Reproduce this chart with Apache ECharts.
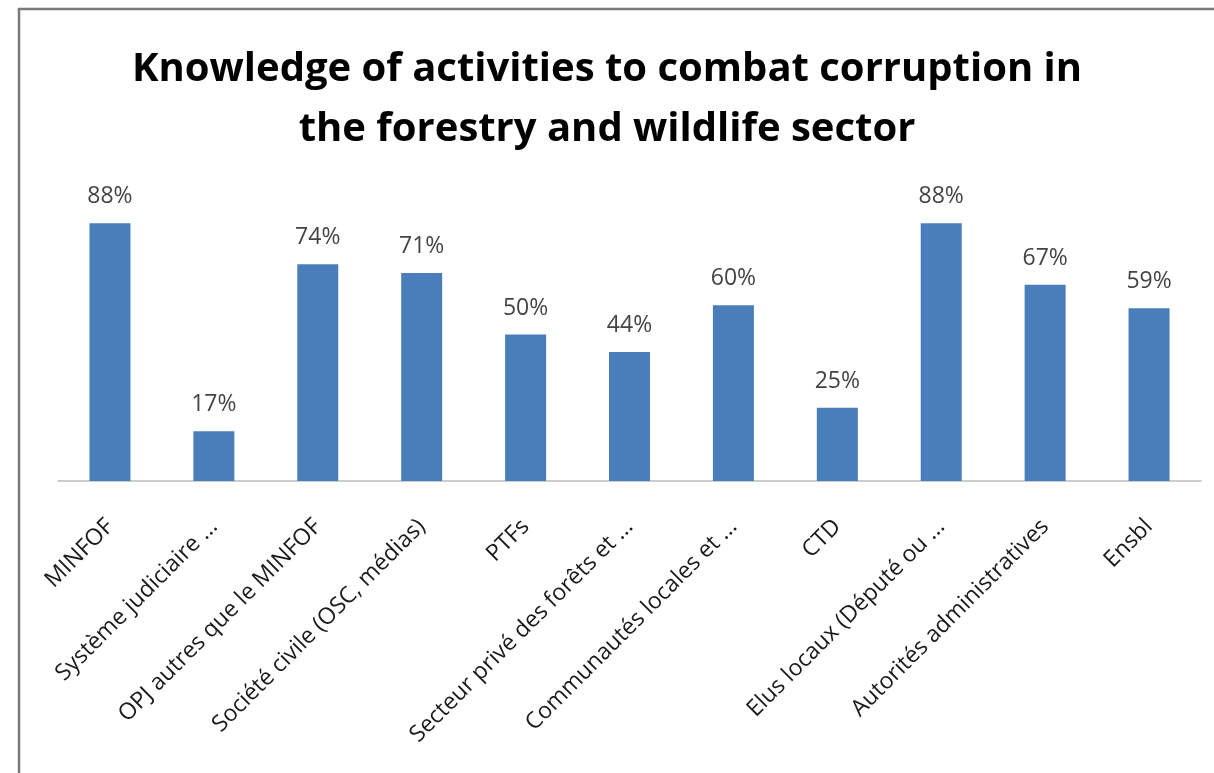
<!DOCTYPE html>
<html>
<head>
    <meta charset="utf-8">
    <title>Knowledge of activities to combat corruption</title>
    <script src="https://cdn.jsdelivr.net/npm/echarts@6/dist/echarts.min.js"></script>
    <style>
        html, body { margin: 0; padding: 0; background: #fff; }
        #main { width: 1214px; height: 773px; }
    </style>
</head>
<body>
    <div id="main"></div>
<script>
    // categories (as truncated in the original chart)
    var categories = [
        'MINFOF',
        'Système judiciaire ...',
        'OPJ autres que le MINFOF',
        'Société civile (OSC, médias)',
        'PTFs',
        'Secteur privé des forêts et ...',
        'Communautés locales et ...',
        'CTD',
        'Elus locaux (Député ou ...',
        'Autorités administratives',
        'Ensbl'
    ];
    // percentages
    var values = [88, 17, 74, 71, 50, 44, 60, 25, 88, 67, 59];

    var titleLines = [
        'Knowledge of activities to combat corruption in',
        'the forestry and wildlife sector'
    ];

    var myChart = echarts.init(document.getElementById('main'));
    var font = '"Open Sans", Lato, sans-serif';

    myChart.setOption({
        animation: false,
        title: {
            text: titleLines.join('\n'),
            left: 'center',
            top: 35,
            textStyle: {
                fontFamily: font,
                fontWeight: 'bold',
                fontSize: 40,
                lineHeight: 60,
                color: '#000'
            }
        },
        graphic: [{
            type: 'rect',
            shape: { x: 19, y: 9, width: 1400, height: 1000 },
            style: { fill: null, stroke: '#7a7a7a', lineWidth: 2.5 }
        }],
        grid: { left: 58, right: 13, top: 188, bottom: 292 },
        xAxis: {
            type: 'category',
            data: categories,
            axisLine: { lineStyle: { color: '#bdbdbd', width: 1.5 } },
            axisTick: { alignWithLabel: false, length: 6, lineStyle: { color: '#bdbdbd' } },
            axisLabel: {
                interval: 0,
                rotate: 45,
                margin: 42,
                fontFamily: font,
                fontSize: 23,
                color: '#1a1a1a'
            }
        },
        yAxis: {
            type: 'value',
            min: 0,
            max: 100,
            show: false
        },
        series: [{
            type: 'bar',
            data: values,
            barWidth: 41,
            itemStyle: { color: '#4a7ebb' },
            label: {
                show: true,
                position: 'top',
                distance: 15,
                formatter: '{c}%',
                fontFamily: font,
                fontSize: 23,
                color: '#444'
            }
        }]
    });
</script>
</body>
</html>
